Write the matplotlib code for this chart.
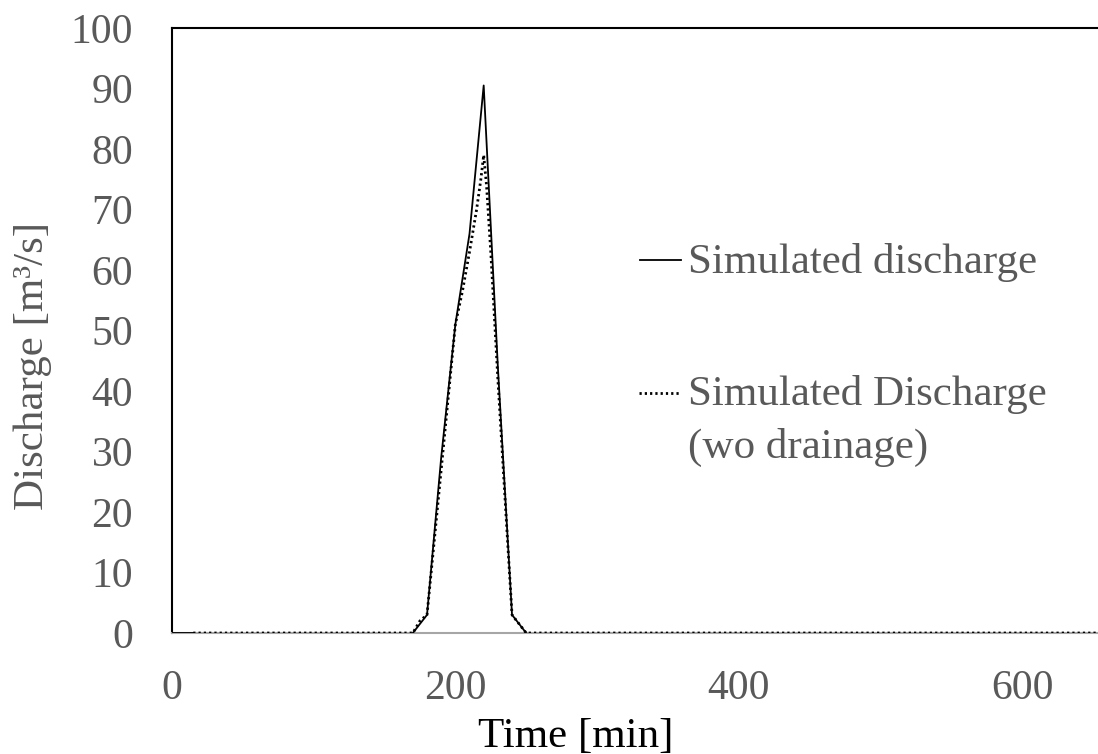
import numpy as np
import matplotlib
matplotlib.use("Agg")
import matplotlib.pyplot as plt
from matplotlib.lines import Line2D

# ---- data ----
sim_time = [0, 15, 15, 170, 180, 190, 200, 210, 220, 230, 240, 250]
sim_q = [0, 0, np.nan, 0, 3, 29, 51, 66, 90.5, 44, 3, 0]

wo_time = [15, 170, 175, 180, 190, 200, 205, 210, 215, 218, 220, 222, 225, 230, 240, 250, 660]
wo_q = [0, 0, 2, 3, 27, 51, 56.5, 63, 70, 75, 79, 74, 63, 42, 3, 0, 0]

x_ticks = [0, 200, 400, 600]
y_ticks = [0, 10, 20, 30, 40, 50, 60, 70, 80, 90, 100]
label_sim = "Simulated discharge"
label_wo_1 = "Simulated Discharge"
label_wo_2 = "(wo drainage)"

W, H = 1098, 754
GRAY = "#595959"
plt.rcParams["font.family"] = ["Liberation Serif", "DejaVu Serif"]

fig = plt.figure(figsize=(W / 100, H / 100), dpi=100)
ax = fig.add_axes([172 / W, (H - 633) / H, (W - 172) / W, 605 / H])

DOT = (0, (0.8, 1.1))
ax.plot(wo_time, wo_q, color="black", lw=2.0, linestyle=DOT, zorder=3)
ax.plot(sim_time, sim_q, color="black", lw=1.3, zorder=4)

ax.set_xlim(0, 653.6)
ax.set_ylim(0, 100)
ax.set_xticks(x_ticks)
ax.set_yticks(y_ticks)
ax.tick_params(length=0, labelsize=30, labelcolor=GRAY)
ax.tick_params(axis="y", pad=28)
ax.tick_params(axis="x", pad=26)

ax.spines["right"].set_visible(False)
ax.spines["top"].set_color("black")
ax.spines["top"].set_linewidth(1.5)
ax.spines["left"].set_color("black")
ax.spines["left"].set_linewidth(1.5)
ax.spines["bottom"].set_color("#a6a6a6")
ax.spines["bottom"].set_linewidth(1.5)

# axis titles
fig.text(576 / W, 1 - 747 / H, "Time [min]", ha="center", va="baseline",
         fontsize=31, color="black")
fig.text(33 / W, 1 - 366 / H, "Discharge [m\u00b3/s]", ha="center", va="center",
         rotation=90, fontsize=31, color=GRAY)

# manual legend
fig.add_artist(Line2D([640 / W, 681 / W], [1 - 260 / H, 1 - 260 / H],
                      transform=fig.transFigure, color="black", lw=1.3))
fig.add_artist(Line2D([639 / W, 679 / W], [1 - 393 / H, 1 - 393 / H],
                      transform=fig.transFigure, color="black", lw=2.0,
                      linestyle=DOT))
fig.text(688 / W, 1 - 273 / H, label_sim, ha="left", va="baseline",
         fontsize=31, color=GRAY)
fig.text(688 / W, 1 - 405 / H, label_wo_1, ha="left", va="baseline",
         fontsize=31, color=GRAY)
fig.text(688 / W, 1 - 458 / H, label_wo_2, ha="left", va="baseline",
         fontsize=31, color=GRAY)

fig.savefig("out.png", dpi=100)
